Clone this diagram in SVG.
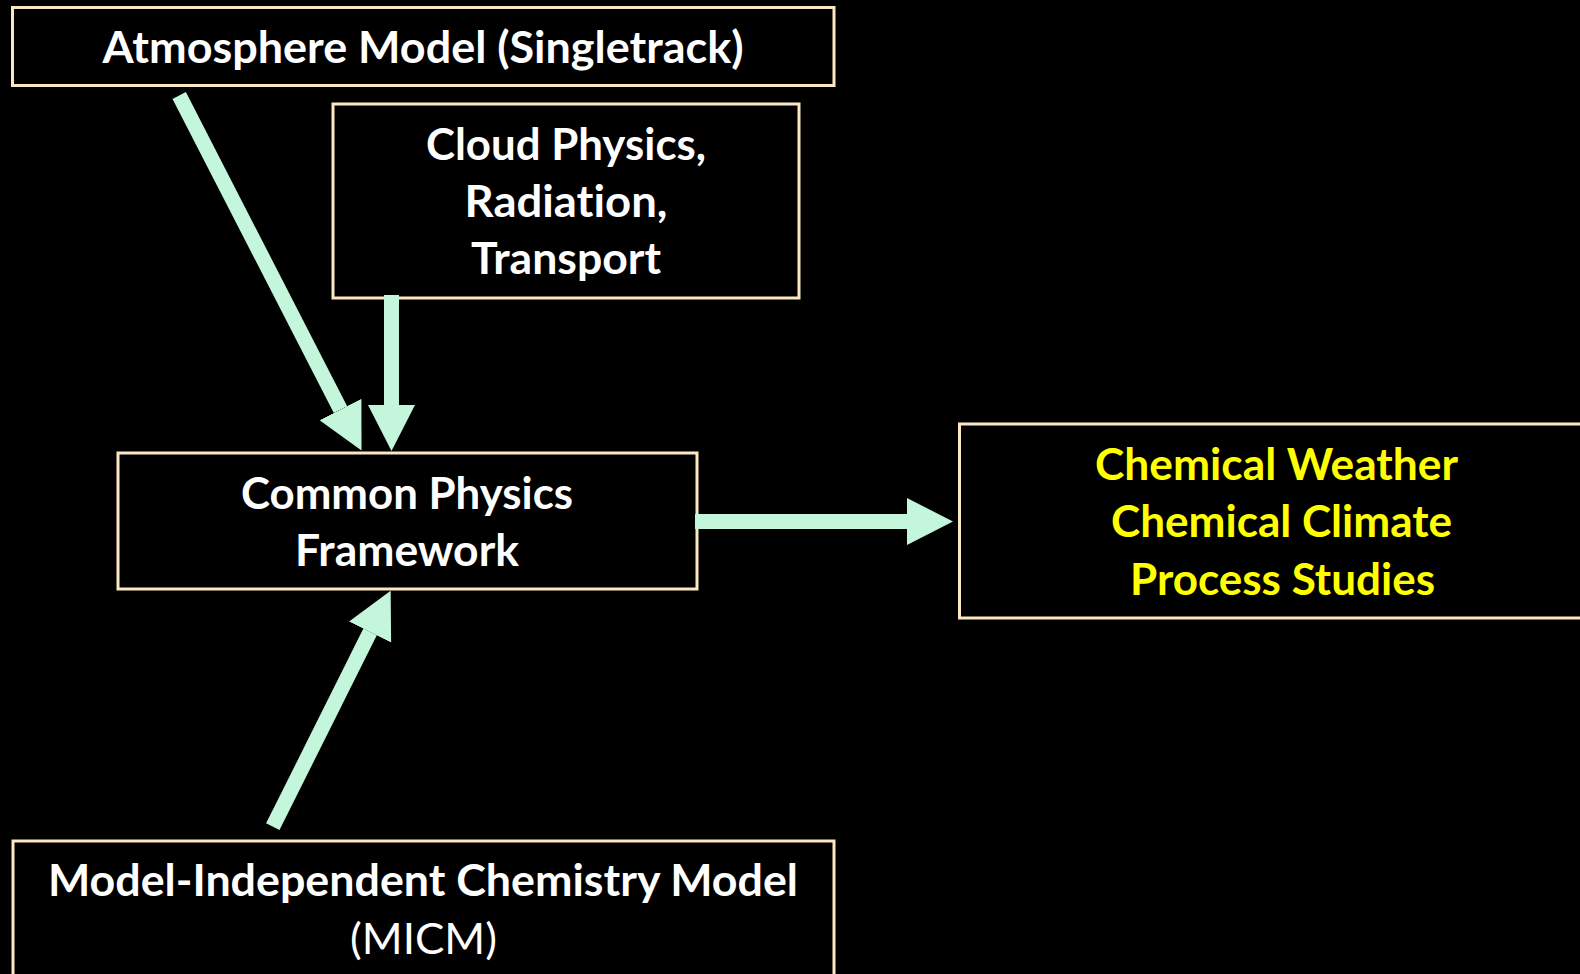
<svg xmlns="http://www.w3.org/2000/svg" width="1580" height="974" viewBox="0 0 1580 974">
<style>
.box{fill:#000;stroke:#FBE8C3;stroke-width:3}
.t{font-family:Lato,"Open Sans","Liberation Sans",sans-serif;font-weight:bold;font-size:43px;fill:#fff;text-anchor:middle;font-variant-ligatures:none}
.y{fill:#FFFF00}
.reg{font-weight:normal}
.arr{stroke:#C4F6DC;stroke-width:15;stroke-linecap:butt;fill:none}
</style>
<defs>
<marker id="ah" markerUnits="userSpaceOnUse" markerWidth="47" markerHeight="48" refX="0" refY="23.5" orient="auto" viewBox="0 0 47 47">
<path d="M0,0 L46,23.5 L0,47 Z" fill="#C4F6DC"/>
</marker>
</defs>
<rect width="1580" height="974" fill="#000"/>
<g id="atmosphere">
<rect class="box" x="12.5" y="7.5" width="821.5" height="78"/>
<text class="t" x="423" y="63" textLength="641" lengthAdjust="spacingAndGlyphs">Atmosphere Model (Singletrack)</text>
</g>
<g id="cloud">
<rect class="box" x="333" y="104" width="466" height="194"/>
<text class="t" x="566" y="159.5" textLength="280" lengthAdjust="spacingAndGlyphs">Cloud Physics,</text>
<text class="t" x="566" y="216.5" textLength="203" lengthAdjust="spacingAndGlyphs">Radiation,</text>
<text class="t" x="566" y="273.5" textLength="190" lengthAdjust="spacingAndGlyphs">Transport</text>
</g>
<g id="common">
<rect class="box" x="118" y="453" width="579" height="136"/>
<text class="t" x="407" y="508.5" textLength="332" lengthAdjust="spacingAndGlyphs">Common Physics</text>
<text class="t" x="407" y="565.5" textLength="224" lengthAdjust="spacingAndGlyphs">Framework</text>
</g>
<g id="outputs">
<rect class="box" x="959.5" y="424" width="640" height="194"/>
<text class="t y" x="1276.5" y="479.5" textLength="363" lengthAdjust="spacingAndGlyphs">Chemical Weather</text>
<text class="t y" x="1281.5" y="536.5" textLength="341" lengthAdjust="spacingAndGlyphs">Chemical Climate</text>
<text class="t y" x="1282.5" y="594.5" textLength="305" lengthAdjust="spacingAndGlyphs">Process Studies</text>
</g>
<g id="micm">
<rect class="box" x="13" y="841" width="821" height="150"/>
<text class="t" x="423" y="896" textLength="750" lengthAdjust="spacingAndGlyphs">Model-Independent Chemistry Model</text>
<text class="t reg" x="423.5" y="954" textLength="147" lengthAdjust="spacingAndGlyphs">(MICM)</text>
</g>
<g id="connectors">
<line class="arr" x1="179.2" y1="95.5" x2="340.5" y2="409.6" marker-end="url(#ah)"/>
<line class="arr" x1="391.5" y1="295" x2="391.5" y2="405" marker-end="url(#ah)"/>
<line class="arr" x1="695" y1="521.5" x2="907" y2="521.5" marker-end="url(#ah)"/>
<line class="arr" x1="272.8" y1="826.7" x2="370.1" y2="631.9" marker-end="url(#ah)"/>
</g>
</svg>
